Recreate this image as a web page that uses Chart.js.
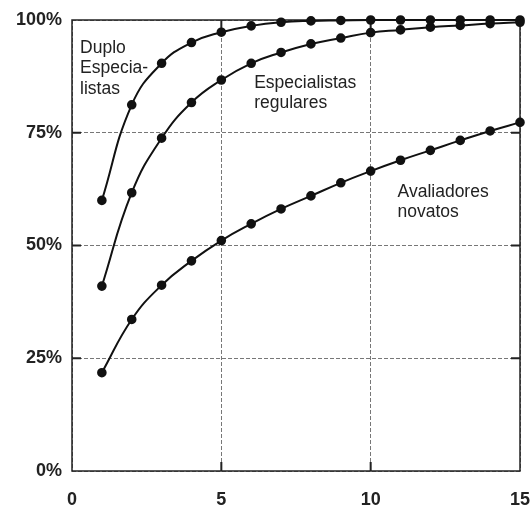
<!DOCTYPE html>
<html>
<head>
<meta charset="utf-8">
<script src="https://cdn.jsdelivr.net/npm/chart.js@4"></script>
<style>
  html, body { margin: 0; padding: 0; background: #fff; }
  #wrap { width: 531px; height: 508px; position: relative; }
</style>
</head>
<body>
<div id="wrap"><canvas id="c"></canvas></div>
<script>
const xValues   = [1, 2, 3, 4, 5, 6, 7, 8, 9, 10, 11, 12, 13, 14, 15];
const duplo     = [60, 81.2, 90.4, 95.0, 97.3, 98.7, 99.5, 99.8, 99.9, 100, 100, 100, 100, 100, 100];
const regulares = [41, 61.7, 73.8, 81.7, 86.7, 90.4, 92.8, 94.7, 96.0, 97.2, 97.8, 98.4, 98.8, 99.2, 99.5];
const novatos   = [21.8, 33.6, 41.2, 46.6, 51.1, 54.8, 58.1, 61.0, 63.9, 66.5, 68.9, 71.1, 73.3, 75.4, 77.3];
const xTicks = [0, 5, 10, 15];
const yTicks = [0, 25, 50, 75, 100];
const annotations = [
  { x: 0.27, y: 93.8, lines: ['Duplo', 'Especia-', 'listas'] },
  { x: 6.1,  y: 86.0, lines: ['Especialistas', 'regulares'] },
  { x: 10.9, y: 61.9, lines: ['Avaliadores', 'novatos'] }
];

function pts(arr) { return xValues.map((x, i) => ({ x: x, y: arr[i] })); }

function ds(label, arr) {
  return {
    label: label,
    data: pts(arr),
    borderColor: '#111',
    backgroundColor: '#111',
    borderWidth: 2,
    pointRadius: 3.8,
    pointHoverRadius: 3.8,
    pointBackgroundColor: '#111',
    pointBorderColor: '#111',
    tension: 0.45,
    clip: false
  };
}

const framePlugin = {
  id: 'frame',
  beforeDatasetsDraw(chart) {
    const { ctx, chartArea: a, scales } = chart;
    ctx.save();
    ctx.strokeStyle = '#222';
    ctx.lineWidth = 1.5;
    ctx.strokeRect(a.left, a.top, a.right - a.left, a.bottom - a.top);
    ctx.lineWidth = 2;
    const L = 9;
    yTicks.slice(1, -1).forEach(v => {
      const y = scales.y.getPixelForValue(v);
      ctx.beginPath();
      ctx.moveTo(a.left, y); ctx.lineTo(a.left + L, y);
      ctx.moveTo(a.right, y); ctx.lineTo(a.right - L, y);
      ctx.stroke();
    });
    xTicks.slice(1, -1).forEach(v => {
      const x = scales.x.getPixelForValue(v);
      ctx.beginPath();
      ctx.moveTo(x, a.bottom); ctx.lineTo(x, a.bottom - L);
      ctx.moveTo(x, a.top); ctx.lineTo(x, a.top + L);
      ctx.stroke();
    });
    ctx.restore();
  },
  afterDraw(chart) {
    const { ctx, scales } = chart;
    ctx.save();
    ctx.fillStyle = '#222';
    ctx.font = '17.5px "Liberation Sans", Arial, sans-serif';
    ctx.textBaseline = 'middle';
    ctx.textAlign = 'left';
    annotations.forEach(an => {
      const x = scales.x.getPixelForValue(an.x);
      const y = scales.y.getPixelForValue(an.y);
      an.lines.forEach((t, i) => ctx.fillText(t, x, y + i * 20.5));
    });
    ctx.restore();
  }
};

new Chart(document.getElementById('c'), {
  type: 'line',
  data: {
    datasets: [ds('Duplo Especialistas', duplo), ds('Especialistas regulares', regulares), ds('Avaliadores novatos', novatos)]
  },
  options: {
    responsive: true,
    maintainAspectRatio: false,
    animation: false,
    events: [],
    layout: { padding: { top: 20, right: 11, left: 0, bottom: 0 } },
    plugins: { legend: { display: false }, tooltip: { enabled: false } },
    scales: {
      x: {
        type: 'linear',
        min: 0, max: 15,
        afterBuildTicks(scale) { scale.ticks = xTicks.map(v => ({ value: v })); },
        afterFit(scale) { scale.height = 37; scale.paddingLeft = 0; scale.paddingRight = 0; },
        ticks: {
          color: '#222',
          padding: 18,
          font: { family: '"Liberation Sans", Arial, sans-serif', size: 18, weight: 'bold' }
        },
        grid: { color: '#777', lineWidth: 1, drawTicks: false },
        border: { display: false, dash: [4, 2] }
      },
      y: {
        min: 0, max: 100,
        afterBuildTicks(scale) { scale.ticks = yTicks.map(v => ({ value: v })); },
        afterFit(scale) { scale.width = 72; scale.paddingTop = 0; scale.paddingBottom = 0; },
        ticks: {
          color: '#222',
          padding: 10,
          callback: v => v + '%',
          font: { family: '"Liberation Sans", Arial, sans-serif', size: 18, weight: 'bold' }
        },
        grid: { color: '#777', lineWidth: 1, drawTicks: false },
        border: { display: false, dash: [4, 2] }
      }
    }
  },
  plugins: [framePlugin]
});
</script>
</body>
</html>
